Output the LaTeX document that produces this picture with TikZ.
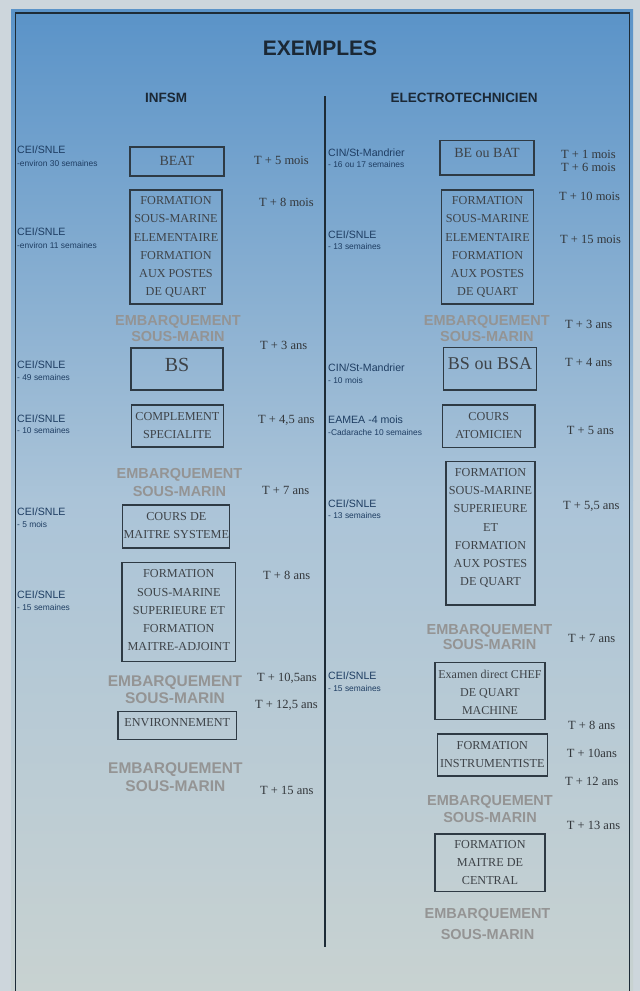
\documentclass[tikz,border=0pt]{standalone}
\usepackage{fontspec}
\setmainfont{Liberation Serif}
\newfontfamily\sansf{Liberation Sans}
\definecolor{bgout}{HTML}{CDD6DC}
\definecolor{ptop}{HTML}{5A93C8}
\definecolor{pmid}{HTML}{ABC4D8}
\definecolor{pbot}{HTML}{C8D2D1}
\definecolor{borderc}{HTML}{1D2B36}
\definecolor{boxc}{HTML}{2E3A44}
\definecolor{boxtext}{HTML}{3E4348}
\definecolor{labc}{HTML}{1E3D62}
\definecolor{timec}{HTML}{33373B}
\definecolor{embc}{HTML}{949494}
\definecolor{hdrc}{HTML}{1B2835}
\begin{document}
\begin{tikzpicture}[x=1pt,y=-1pt,
  bx/.style={draw=boxc, line width=1.3pt, inner sep=0pt, rectangle},
  btxt/.style={inner sep=0pt, align=center, text=boxtext, font=\fontsize{12.2}{18.2}\selectfont},
  lbig/.style={anchor=west, inner sep=0pt, text=labc, font=\sansf\fontsize{10.6}{12}\selectfont},
  lsmall/.style={anchor=west, inner sep=0pt, text=labc, font=\sansf\fontsize{8.4}{9}\selectfont},
  tm/.style={anchor=west, inner sep=0pt, text=timec, font=\fontsize{12.5}{14}\selectfont},
  emb/.style={inner sep=0pt, align=center, text=embc, font=\sansf\bfseries\fontsize{14.5}{#1}\selectfont},
  embL/.style={inner sep=0pt, align=center, text=embc, font=\sansf\bfseries\fontsize{15.5}{#1}\selectfont},
  hdr/.style={inner sep=0pt, text=hdrc, font=\sansf\bfseries\fontsize{13.5}{15}\selectfont}]
\useasboundingbox (0,0) rectangle (640,991);
\fill[bgout] (0,0) rectangle (640,991);
\shade[top color=ptop, bottom color=pmid] (11,9) rectangle (633,500.5);
\shade[top color=pmid, bottom color=pbot] (11,500) rectangle (633,991);
\draw[borderc, line width=1.6pt] (15.5,991) -- (15.5,13) -- (629.5,13) -- (629.5,991);

% titles
\node[inner sep=0pt, text=hdrc, font=\sansf\bfseries\fontsize{21}{24}\selectfont] (title) at (320,48) {EXEMPLES};
\node[hdr] (hL) at (166,98) {INFSM};
\node[hdr] (hR) at (464,98) {ELECTROTECHNICIEN};
\coordinate (dtop) at (325,96);
\coordinate (dbot) at (325,947);
\draw[borderc, line width=1.5pt] (dtop) -- (dbot);

% ---------- left column boxes ----------
\node[bx, minimum width=94, minimum height=29] (bBeat) at (177,161.5) {};
\node[btxt, font=\fontsize{14}{16}\selectfont] (tBeat) at (177,161) {BEAT};
\node[bx, minimum width=92, minimum height=114] (bFsmL) at (176,247) {};
\node[btxt] (tFsmL) at (176,247.2) {FORMATION\\SOUS-MARINE\\ELEMENTAIRE\\FORMATION\\AUX POSTES\\DE QUART};
\node[bx, minimum width=92, minimum height=42] (bBs) at (177,369) {};
\node[btxt, font=\fontsize{20}{22}\selectfont] (tBs) at (177,365) {BS};
\node[bx, minimum width=92, minimum height=42] (bCompl) at (177.4,426) {};
\node[btxt] (tCompl) at (177.4,425.8) {COMPLEMENT\\SPECIALITE};
\node[bx, minimum width=107, minimum height=43] (bMaitre) at (176.3,526.5) {};
\node[btxt, font=\fontsize{12.2}{17.6}\selectfont] (tMaitre) at (176.3,525.5) {COURS DE\\MAITRE SYSTEME};
\node[bx, minimum width=113.7, minimum height=99] (bSupL) at (178.8,612.2) {};
\node[btxt] (tSupL) at (178.8,610.4) {FORMATION\\SOUS-MARINE\\SUPERIEURE ET\\FORMATION\\MAITRE-ADJOINT};
\node[bx, minimum width=118.7, minimum height=27.6] (bEnv) at (177.3,725.5) {};
\node[btxt] (tEnv) at (177.3,722.7) {ENVIRONNEMENT};

% ---------- right column boxes ----------
\node[bx, minimum width=94, minimum height=34.3] (bBeBat) at (487,157.9) {};
\node[btxt, font=\fontsize{14}{16}\selectfont] (tBeBat) at (487,153.3) {BE ou BAT};
\node[bx, minimum width=91.6, minimum height=114] (bFsmR) at (487.5,247) {};
\node[btxt] (tFsmR) at (487.5,247.2) {FORMATION\\SOUS-MARINE\\ELEMENTAIRE\\FORMATION\\AUX POSTES\\DE QUART};
\node[bx, minimum width=93.4, minimum height=42.3] (bBsa) at (490,368.9) {};
\node[btxt, font=\fontsize{18}{20}\selectfont] (tBsa) at (490,363.3) {BS ou BSA};
\node[bx, minimum width=92.3, minimum height=42.3] (bAtom) at (488.8,426.2) {};
\node[btxt, font=\fontsize{12.2}{17.6}\selectfont] (tAtom) at (488.8,425.5) {COURS\\ATOMICIEN};
\node[bx, minimum width=89, minimum height=143.3] (bSupR) at (490.5,533.4) {};
\node[btxt] (tSupR) at (490.5,528) {FORMATION\\SOUS-MARINE\\SUPERIEURE\\ET\\FORMATION\\AUX POSTES\\DE QUART};
\node[bx, minimum width=110, minimum height=57] (bExam) at (490,690.8) {};
\node[btxt, font=\fontsize{12}{17.8}\selectfont] (tExam) at (490,692.2) {Examen direct CHEF\\DE QUART\\MACHINE};
\node[bx, minimum width=110, minimum height=42] (bInstr) at (492.3,755) {};
\node[btxt] (tInstr) at (492.3,754.2) {FORMATION\\INSTRUMENTISTE};
\node[bx, minimum width=110, minimum height=57.7] (bCentral) at (490,862.8) {};
\node[btxt, font=\fontsize{12.2}{18}\selectfont] (tCentral) at (490,863) {FORMATION\\MAITRE DE\\CENTRAL};

% ---------- embarquement ----------
\node[emb=16] (eL1) at (178,328.7) {EMBARQUEMENT\\SOUS-MARIN};
\node[emb=17.7] (eL2) at (179.5,482.8) {EMBARQUEMENT\\SOUS-MARIN};
\node[embL=17] (eL3) at (175,689.2) {EMBARQUEMENT\\SOUS-MARIN};
\node[embL=17.7] (eL4) at (175.4,777.1) {EMBARQUEMENT\\SOUS-MARIN};
\node[emb=16] (eR1) at (486.8,328.7) {EMBARQUEMENT\\SOUS-MARIN};
\node[emb=15.7] (eR2) at (489.5,637.1) {EMBARQUEMENT\\SOUS-MARIN};
\node[emb=16.6] (eR3) at (490,809) {EMBARQUEMENT\\SOUS-MARIN};
\node[emb=21.7] (eR4) at (487.5,924.1) {EMBARQUEMENT\\SOUS-MARIN};

% ---------- left labels ----------
\node[lbig] (la1) at (17,150) {CEI/SNLE};
\node[lsmall] (lb1) at (17,163) {-environ 30 semaines};
\node[lbig] (la2) at (17,231.7) {CEI/SNLE};
\node[lsmall] (lb2) at (17,245) {-environ 11 semaines};
\node[lbig] (la3) at (17,365) {CEI/SNLE};
\node[lsmall] (lb3) at (17,377) {- 49 semaines};
\node[lbig] (la4) at (17,419) {CEI/SNLE};
\node[lsmall] (lb4) at (17,430.7) {- 10 semaines};
\node[lbig] (la5) at (17,512) {CEI/SNLE};
\node[lsmall] (lb5) at (17,524) {- 5 mois};
\node[lbig] (la6) at (17,594.3) {CEI/SNLE};
\node[lsmall] (lb6) at (17,607.3) {- 15 semaines};

% ---------- right labels ----------
\node[lbig] (ra1) at (328,152.7) {CIN/St-Mandrier};
\node[lsmall] (rb1) at (328,164.3) {- 16 ou 17 semaines};
\node[lbig] (ra2) at (328,235) {CEI/SNLE};
\node[lsmall] (rb2) at (328,246.7) {- 13 semaines};
\node[lbig] (ra3) at (328,367.3) {CIN/St-Mandrier};
\node[lsmall] (rb3) at (328,380) {- 10 mois};
\node[lbig] (ra4) at (328,420) {EAMEA -4 mois};
\node[lsmall] (rb4) at (328,432.3) {-Cadarache 10 semaines};
\node[lbig] (ra5) at (328,503.3) {CEI/SNLE};
\node[lsmall] (rb5) at (328,515) {- 13 semaines};
\node[lbig] (ra6) at (328,675.7) {CEI/SNLE};
\node[lsmall] (rb6) at (328,688.3) {- 15 semaines};

% ---------- left times ----------
\node[tm] (tl1) at (254,160) {T + 5 mois};
\node[tm] (tl2) at (259,202.7) {T + 8 mois};
\node[tm] (tl3) at (260,345) {T + 3 ans};
\node[tm] (tl4) at (258,420.7) {T + 4,5 ans};
\node[tm] (tl5) at (262,490.7) {T + 7 ans};
\node[tm] (tl6) at (263,575) {T + 8 ans};
\node[tm] (tl7) at (257,678.3) {T + 10,5ans};
\node[tm] (tl8) at (255,705) {T + 12,5 ans};
\node[tm] (tl9) at (260,790.7) {T + 15 ans};

% ---------- right times ----------
\node[tm] (tr1) at (561,154.3) {T + 1 mois};
\node[tm] (tr2) at (561,167.7) {T + 6 mois};
\node[tm] (tr3) at (559,196) {T + 10 mois};
\node[tm] (tr4) at (560,239.3) {T + 15 mois};
\node[tm] (tr5) at (565,324.3) {T + 3 ans};
\node[tm] (tr6) at (565,362.3) {T + 4 ans};
\node[tm] (tr7) at (566.7,430.7) {T + 5 ans};
\node[tm] (tr8) at (563,506) {T + 5,5 ans};
\node[tm] (tr9) at (568,638.3) {T + 7 ans};
\node[tm] (tr10) at (568,725) {T + 8 ans};
\node[tm] (tr11) at (566.7,753.3) {T + 10ans};
\node[tm] (tr12) at (565,781.7) {T + 12 ans};
\node[tm] (tr13) at (566.7,825) {T + 13 ans};
\end{tikzpicture}
\end{document}
